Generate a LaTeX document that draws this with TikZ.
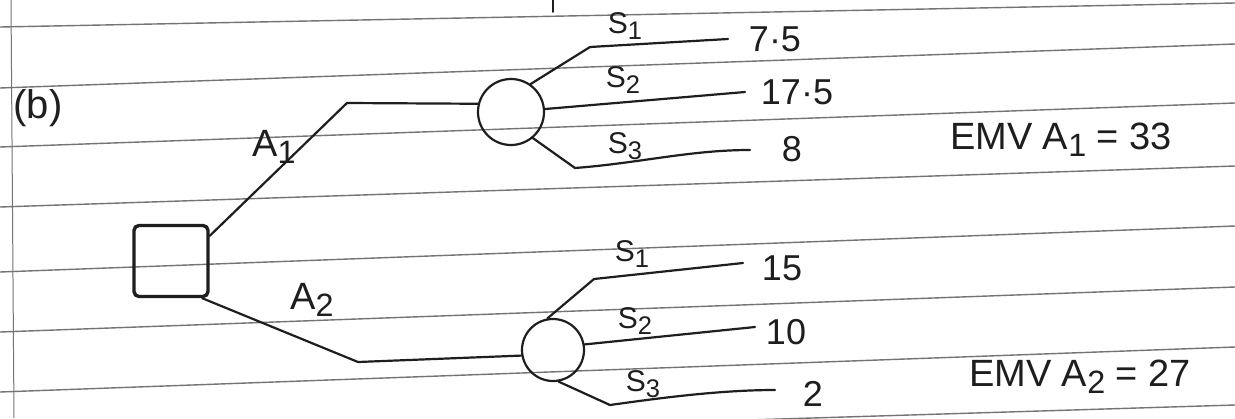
\documentclass[tikz,border=0pt]{standalone}
\usepackage{fontspec}
\setmainfont{Liberation Sans}
\newcommand{\lowidx}[1]{\raisebox{-0.35ex}{\scalebox{0.85}{#1}}}
\definecolor{inkc}{HTML}{1E1E1E}
\definecolor{rulec}{HTML}{747474}
\tikzset{
  rule/.style={draw=rulec, line width=1.4pt},
  ink/.style={draw=inkc, line width=2.2pt, line join=round, line cap=round},
  chance/.style={circle, ink, minimum size=66pt, inner sep=0pt},
  decision/.style={rectangle, ink, line width=3.4pt, minimum width=74pt, minimum height=71pt, inner sep=0pt, rounded corners=5pt},
  lab/.style={text=inkc, inner sep=0pt, font=\fontsize{30}{30}\selectfont},
  alab/.style={text=inkc, inner sep=0pt, font=\fontsize{38}{38}\selectfont},
  val/.style={text=inkc, inner sep=0pt, font=\fontsize{36}{36}\selectfont},
  emv/.style={text=inkc, inner sep=0pt, font=\fontsize{38}{38}\selectfont},
}
\begin{document}
\begin{tikzpicture}[x=1pt, y=-1pt]
\useasboundingbox[fill=white] (0,0) rectangle (1235,418);
% ruled paper
\draw[rule] (0,27) -- (1235,3);
\draw[rule] (0,88) -- (1235,44);
\draw[rule] (0,147) -- (1235,103);
\draw[rule] (0,207) -- (1235,166);
\draw[rule] (0,272) -- (1235,226);
\draw[rule] (0,332) -- (1235,287);
\draw[rule] (0,392) -- (1235,347);
\draw[rule] (0,443) -- (1235,405);
\draw[draw=rulec, line width=1pt] (11,0) -- (14,418);
\draw[ink, line width=1.6pt] (553,0) -- (553,12);

% label (b)
\node[alab, font=\fontsize{40}{40}\selectfont] (b) at (38,108) {(b)};

% nodes
\node[decision] (dec) at (171,261) {};
\node[chance] (c1) at (511,112) {};
\node[chance, minimum size=62pt] (c2) at (553,350) {};

% A1 branch
\coordinate (k1) at (347,103);
\draw[ink] (dec.33) -- (k1) -- (c1.166);
\node[alab] (a1) at (274,147) {A\lowidx{1}};

% A2 branch
\coordinate (k2) at (358,362);
\draw[ink] (dec.-50) -- (k2) -- (c2.190);
\node[alab] (a2) at (312,300) {A\lowidx{2}};

% chance 1 outcomes
\coordinate (b11) at (590,47);
\coordinate (e11) at (728,39);
\coordinate (e12) at (745,92);
\coordinate (b13) at (575,168);
\coordinate (e13) at (750,150);
\draw[ink] (c1.55) -- (b11) -- (e11);
\draw[ink] (c1.5) -- (e12);
\draw[ink] (c1.-50) -- (b13) .. controls (640,163) and (690,150) .. (e13);
\node[lab] (s11) at (625,26) {S\lowidx{1}};
\node[lab] (s12) at (623,80) {S\lowidx{2}};
\node[lab] (s13) at (625,146) {S\lowidx{3}};
\node[val] (v11) at (775,39) {7·5};
\node[val] (v12) at (797,92) {17·5};
\node[val] (v13) at (792,149) {8};
\node[emv] (emv1) at (1061,140) {EMV A\lowidx{1} = 33};

% chance 2 outcomes
\coordinate (b21) at (594,279);
\coordinate (e21) at (743,263);
\coordinate (e22) at (755,327);
\coordinate (b23) at (610,405);
\coordinate (e23) at (775,390);
\draw[ink] (c2.100) -- (b21) -- (e21);
\draw[ink] (c2.10) -- (e22);
\draw[ink] (c2.-80) -- (b23) .. controls (660,398) and (720,390) .. (e23);
\node[lab] (s21) at (632,254) {S\lowidx{1}};
\node[lab] (s22) at (635,321) {S\lowidx{2}};
\node[lab] (s23) at (643,384) {S\lowidx{3}};
\node[val] (v21) at (782,268) {15};
\node[val] (v22) at (786,332) {10};
\node[val] (v23) at (813,394) {2};
\node[emv] (emv2) at (1080,377) {EMV A\lowidx{2} = 27};
\end{tikzpicture}
\end{document}
